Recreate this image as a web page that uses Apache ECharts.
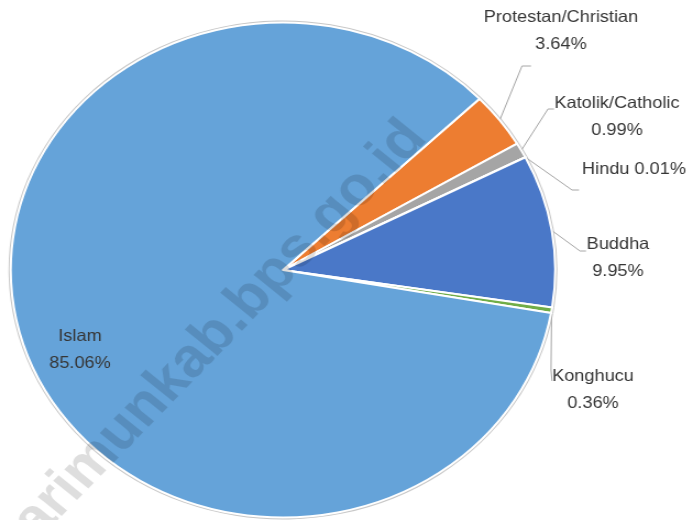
<!DOCTYPE html>
<html>
<head>
<meta charset="utf-8">
<script src="https://cdn.jsdelivr.net/npm/echarts@6/dist/echarts.min.js"></script>
<style>
    html, body {margin: 0; padding: 0; background: #fff; overflow: hidden;}
    /* pie in the picture is an ellipse, so stretch the chart a bit horizontally */
    #main {width: 628px; height: 520px; transform: scaleX(1.1); transform-origin: 0 0;}
</style>
</head>
<body>
<div id="main"></div>
<script>
// 数据
var names = ['Protestan/Christian', 'Katolik/Catholic', 'Hindu', 'Buddha', 'Konghucu', 'Islam'];
var values = [3.64, 0.99, 0.01, 9.95, 0.36, 85.06];

var colors = ['#ed7d31', '#a5a5a5', '#ffc000', '#4a78c8', '#70ad47', '#65a3d9'];
var SX = 1.1; // horizontal stretch of the container

// label centres in page pixels
var labelAt = [[561, 31], [617, 117], [634, 169], [618, 258], [593, 390], [80, 350]];
// label line bend + end points in page pixels (start point comes from the slice)
var lineBend = [
    [[522, 66], [531, 66]],
    [[548, 109], [554, 109]],
    [[572, 190], [579, 190]],
    [[580, 251], [586, 251]],
    [[551, 370], [552, 381]],
    null
];

function showReligionPie() {
    var chart = echarts.init(document.getElementById('main'));
    var data = [];
    var outline = [];
    for (var i = 0; i < names.length; i++) {
        var item = {
            name: names[i],
            value: values[i],
            itemStyle: {color: colors[i]}
        };
        if (names[i] === 'Islam') {
            item.label = {position: 'inside'};
            item.labelLine = {show: false};
        }
        data.push(item);
        outline.push({name: names[i], value: values[i]});
    }
    var option = {
        animation: false,
        backgroundColor: '#fff',
        graphic: [{
            type: 'text',
            z: 100,
            silent: true,
            x: 416 / SX,
            y: 129,
            rotation: 48.5 * Math.PI / 180,
            style: {
                text: 'https://karimunkab.bps.go.id',
                fontFamily: 'Liberation Sans',
                fontWeight: 'bold',
                fontSize: 55,
                fill: 'rgba(0, 0, 0, 0.13)',
                align: 'right',
                verticalAlign: 'middle'
            }
        }],
        series: [
            // thin grey rim round the pie
            {
                type: 'pie',
                silent: true,
                z: 1,
                center: [283 / SX, 270],
                radius: [0, 249.5],
                startAngle: 43.8,
                clockwise: true,
                itemStyle: {color: '#c8c8c8', borderWidth: 0},
                label: {show: false},
                labelLine: {show: false},
                data: outline
            },
            {
                type: 'pie',
                z: 2,
                center: [283 / SX, 270],
                radius: [0, 247.5],
                startAngle: 43.8,
                clockwise: true,
                minAngle: 0,
                avoidLabelOverlap: false,
                itemStyle: {
                    borderColor: '#fff',
                    borderWidth: 2
                },
                label: {
                    show: true,
                    position: 'outside',
                    color: '#363636',
                    fontFamily: '"Liberation Sans", Arial, sans-serif',
                    fontSize: 16.5,
                    lineHeight: 27,
                    align: 'center',
                    formatter: function (params) {
                        var v = params.value.toFixed(2) + '%';
                        if (params.name === 'Hindu') {
                            return params.name + ' ' + v;
                        }
                        return params.name + '\n' + v;
                    }
                },
                labelLine: {
                    show: true,
                    length: 10,
                    length2: 10,
                    smooth: false,
                    lineStyle: {
                        color: '#a6a6a6',
                        width: 1
                    }
                },
                labelLayout: function (params) {
                    var i = params.dataIndex;
                    var res = {
                        x: labelAt[i][0] / SX,
                        y: labelAt[i][1],
                        align: 'center',
                        verticalAlign: 'middle'
                    };
                    if (lineBend[i] && params.labelLinePoints) {
                        var start = params.labelLinePoints[0];
                        res.labelLinePoints = [
                            start,
                            [lineBend[i][0][0] / SX, lineBend[i][0][1]],
                            [lineBend[i][1][0] / SX, lineBend[i][1][1]]
                        ];
                    }
                    return res;
                },
                data: data
            }
        ]
    };
    chart.setOption(option);
}

showReligionPie();
</script>
</body>
</html>
